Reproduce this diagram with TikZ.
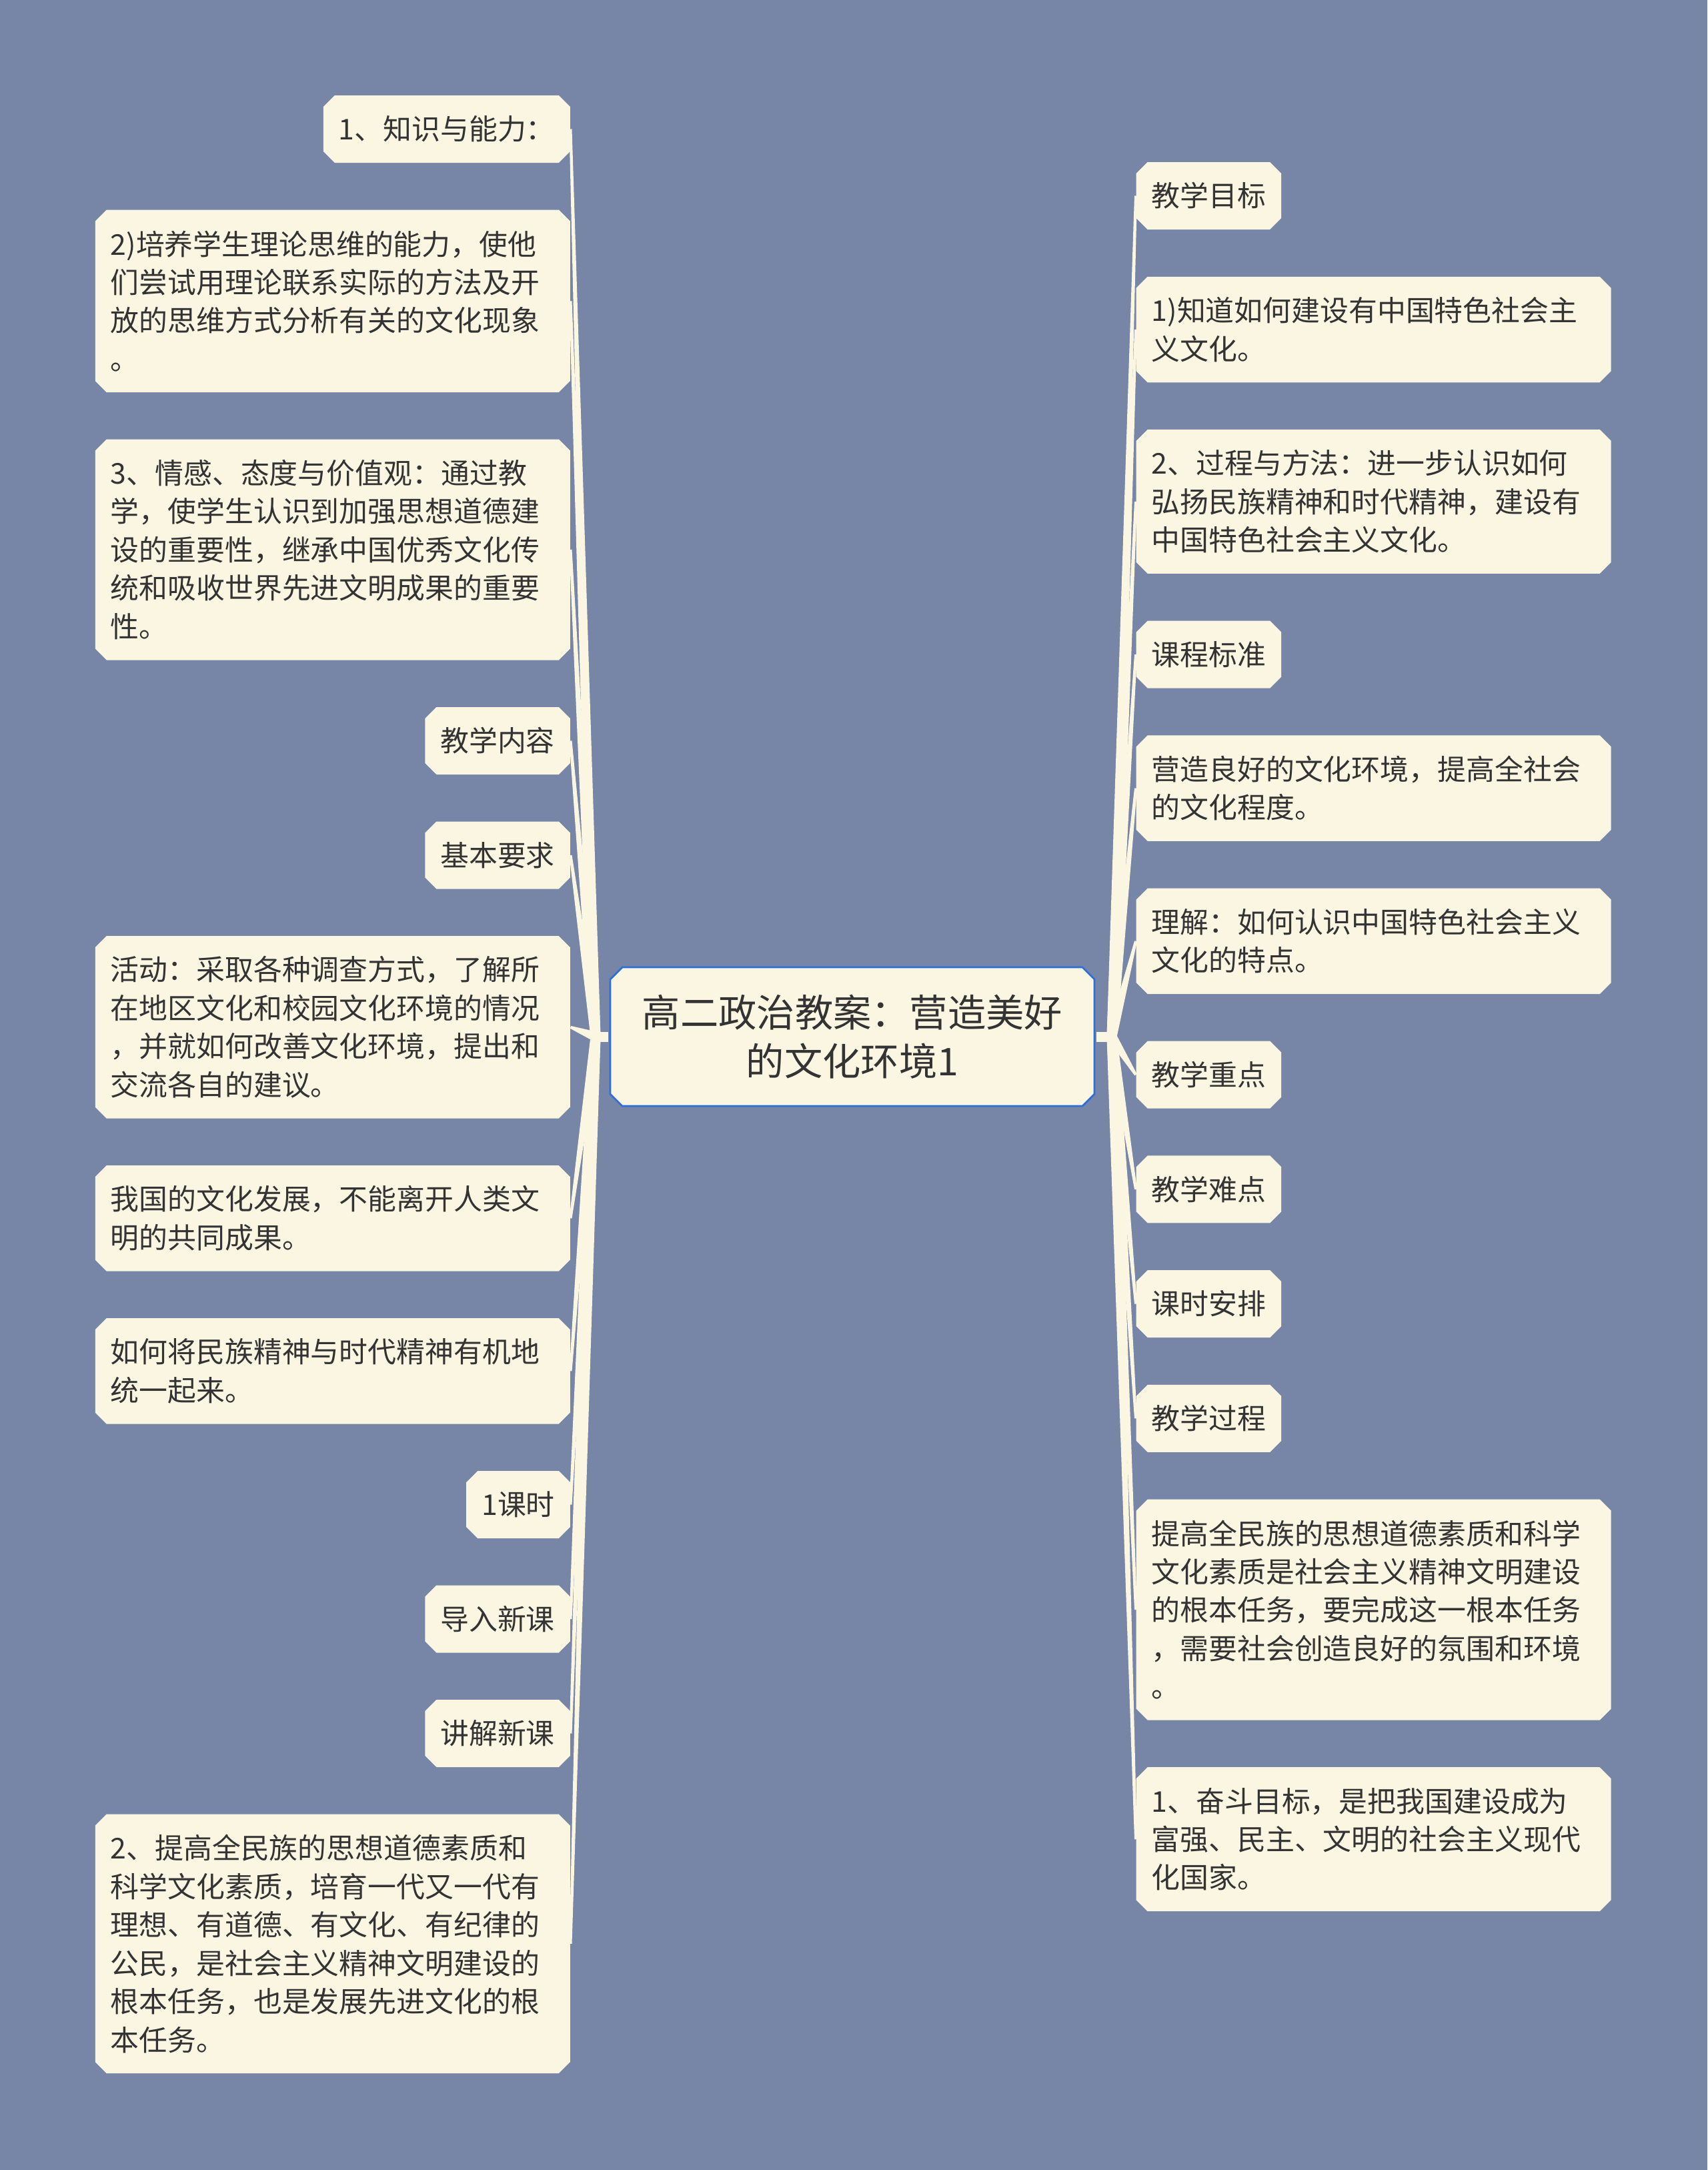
\documentclass[tikz,border=0pt]{standalone}
\usepackage{fontspec}
\newfontfamily\cjk{Noto Sans CJK SC}
\usetikzlibrary{shapes.misc,calc}
\definecolor{slate}{RGB}{119,133,166}
\definecolor{cream}{RGB}{250,246,226}
\definecolor{ink}{RGB}{51,51,51}
\definecolor{sky}{RGB}{46,111,215}
\tikzset{
  hub/.style={chamfered rectangle,chamfered rectangle xsep=0.09cm,chamfered rectangle ysep=0.09cm,
    fill=cream,draw=sky,line width=0.8pt,text=ink,minimum width=7.26cm,minimum height=2.08cm,
    inner sep=0pt,align=center,font=\cjk\fontsize{16.3pt}{20.7pt}\selectfont},
  leafbox/.style={chamfered rectangle,chamfered rectangle xsep=0.085cm,chamfered rectangle ysep=0.085cm,
    fill=cream,text=ink,inner xsep=0.145cm,inner ysep=0.1cm,align=left,
    font=\cjk\fontsize{12.2pt}{16.35pt}\selectfont},
  widebox/.style={text width=6.66cm},
  shortbox/.style={},
  twig/.style={cream},
}
% tapered link: wide at the root, thin at the topic
\newcommand\wedgeto[2]{%
  \fill[twig] ($(#1)!0.075cm!90:(#2)$) -- ($(#2)!0.02cm!-90:(#1)$)
    -- ($(#2)!0.02cm!90:(#1)$) -- ($(#1)!0.075cm!-90:(#2)$) -- cycle;}
\begin{document}
\begin{tikzpicture}
  \useasboundingbox (0,0) rectangle (25.6,-32.53);
  \fill[slate] (0,0) rectangle (25.6,-32.53);
  \node[hub] (c) at (12.78,-15.54) {高二政治教案：营造美好\\的文化环境1};
  \coordinate (lroot) at (8.93,-15.54);
  \coordinate (rroot) at (16.67,-15.54);
  \draw[twig,line width=0.15cm,shorten <=0.4pt] (c.west) -- (lroot);
  \draw[twig,line width=0.15cm,shorten <=0.4pt] (c.east) -- (rroot);
  % left side
  \foreach \n/\y/\nl/\sty/\txt in {
    L1/1.935/1/shortbox/{1、知识与能力：},
    L2/4.513/4/widebox/{2)培养学生理论思维的能力，使他\\们尝试用理论联系实际的方法及开\\放的思维方式分析有关的文化现象\\。},
    L3/8.240/5/widebox/{3、情感、态度与价值观：通过教\\学，使学生认识到加强思想道德建\\设的重要性，继承中国优秀文化传\\统和吸收世界先进文明成果的重要\\性。},
    L4/11.105/1/shortbox/{教学内容},
    L5/12.820/1/shortbox/{基本要求},
    L6/15.398/4/widebox/{活动：采取各种调查方式，了解所\\在地区文化和校园文化环境的情况\\，并就如何改善文化环境，提出和\\交流各自的建议。},
    L7/18.263/2/widebox/{我国的文化发展，不能离开人类文\\明的共同成果。},
    L8/20.553/2/widebox/{如何将民族精神与时代精神有机地\\统一起来。},
    L9/22.555/1/shortbox/{1课时},
    L10/24.270/1/shortbox/{导入新课},
    L11/25.985/1/shortbox/{讲解新课},
    L12/29.138/6/widebox/{2、提高全民族的思想道德素质和\\科学文化素质，培育一代又一代有\\理想、有道德、有文化、有纪律的\\公民，是社会主义精神文明建设的\\根本任务，也是发展先进文化的根\\本任务。}}{
    \node[leafbox,\sty,minimum height=0.435cm+\nl*0.575cm,anchor=east] (\n) at (8.555,-\y) {\txt};
    \wedgeto{lroot}{\n.east}
  }
  % right side
  \foreach \n/\y/\nl/\sty/\txt in {
    R1/2.935/1/shortbox/{教学目标},
    R2/4.940/2/widebox/{1)知道如何建设有中国特色社会主\\义文化。},
    R3/7.519/3/widebox/{2、过程与方法：进一步认识如何\\弘扬民族精神和时代精神，建设有\\中国特色社会主义文化。},
    R4/9.811/1/shortbox/{课程标准},
    R5/11.816/2/widebox/{营造良好的文化环境，提高全社会\\的文化程度。},
    R6/14.108/2/widebox/{理解：如何认识中国特色社会主义\\文化的特点。},
    R7/16.112/1/shortbox/{教学重点},
    R8/17.829/1/shortbox/{教学难点},
    R9/19.546/1/shortbox/{课时安排},
    R10/21.263/1/shortbox/{教学过程},
    R11/24.130/5/widebox/{提高全民族的思想道德素质和科学\\文化素质是社会主义精神文明建设\\的根本任务，要完成这一根本任务\\，需要社会创造良好的氛围和环境\\。},
    R12/27.572/3/widebox/{1、奋斗目标，是把我国建设成为\\富强、民主、文明的社会主义现代\\化国家。}}{
    \node[leafbox,\sty,minimum height=0.435cm+\nl*0.575cm,anchor=west] (\n) at (17.03,-\y) {\txt};
    \wedgeto{rroot}{\n.west}
  }
\end{tikzpicture}
\end{document}
